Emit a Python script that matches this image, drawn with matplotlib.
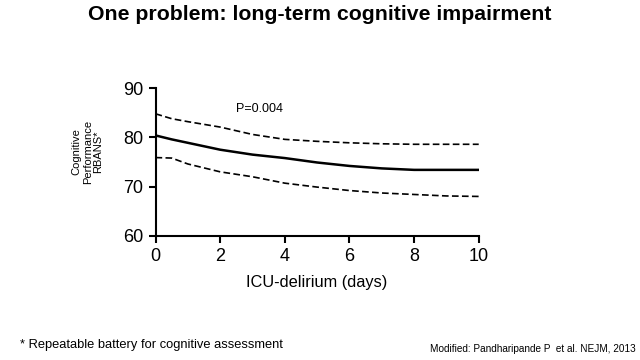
import matplotlib
matplotlib.use("Agg")
import matplotlib.pyplot as plt

plt.rcParams['font.family'] = ['Liberation Sans', 'DejaVu Sans']

days = [0, 0.5, 1, 2, 3, 4, 5, 6, 7, 8, 9, 10]
meanScore = [80.4, 79.6, 78.9, 77.5, 76.5, 75.8, 74.9, 74.2, 73.7, 73.4, 73.4, 73.4]
upperCI = [84.8, 83.8, 83.2, 82.1, 80.6, 79.6, 79.2, 78.9, 78.7, 78.6, 78.6, 78.6]
lowerCI = [75.9, 75.8, 74.6, 73.0, 72.0, 70.7, 69.9, 69.2, 68.7, 68.4, 68.1, 68.0]
xTicks = [0, 2, 4, 6, 8, 10]
yTicks = [60, 70, 80, 90]

fig = plt.figure(figsize=(6.4, 3.6), dpi=100)
ax = fig.add_axes([0.243, 0.345, 0.505, 0.41])

ax.plot(days, meanScore, color='black', linewidth=1.8)
ax.plot(days, upperCI, color='black', linewidth=1.2, linestyle=(0, (4, 2)))
ax.plot(days, lowerCI, color='black', linewidth=1.2, linestyle=(0, (4, 2)))

ax.set_xlim(0, 10)
ax.set_ylim(60, 90)
ax.set_xticks(xTicks)
ax.set_yticks(yTicks)
ax.spines['top'].set_visible(False)
ax.spines['right'].set_visible(False)
ax.spines['left'].set_linewidth(1.5)
ax.spines['bottom'].set_linewidth(1.5)
ax.tick_params(direction='out', width=1.5, length=5, labelsize=13, pad=4)

ax.text(2.48, 85.7, 'P=0.004', fontsize=9, va='center')
ax.set_xlabel('ICU-delirium (days)', fontsize=11.8, labelpad=7)
ax.set_ylabel('Cognitive\nPerformance\nRBANS*', fontsize=8, linespacing=1.1,
              va='center', ha='center')
ax.yaxis.set_label_coords(-0.21, 0.57)

fig.text(0.5, 1 - 14.5 / 360, 'One problem: long-term cognitive impairment',
         ha='center', va='center', fontsize=15.3, fontweight='bold')
fig.text(20 / 640, 1 - 345 / 360, '* Repeatable battery for cognitive assessment',
         fontsize=9.3, va='center')
fig.text(636 / 640, 1 - 349 / 360, 'Modified: Pandharipande P  et al. NEJM, 2013',
         fontsize=7.2, va='center', ha='right')

fig.savefig('out.png', dpi=100)
